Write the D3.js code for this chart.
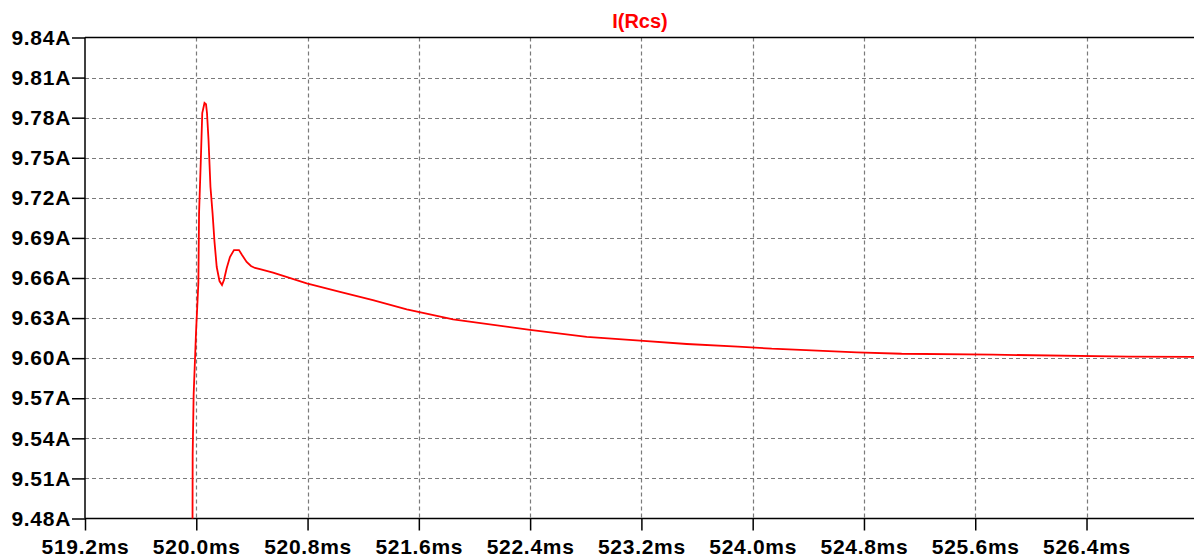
<!DOCTYPE html>
<html>
<head>
<meta charset="utf-8">
<script src="https://cdn.jsdelivr.net/npm/d3@7"></script>
<style>
  html, body { margin: 0; padding: 0; background: #fff; }
  svg { display: block; }
  .lbl { font-family: "Liberation Sans", Arial, sans-serif; font-weight: bold; font-size: 21px; fill: #000; letter-spacing: 0.7px; }
</style>
</head>
<body>
<svg id="chart" width="1194" height="560"></svg>
<script>
// Time (ms) and current (A) of trace I(Rcs)
const timeMs = [519.960, 519.973, 519.974, 519.981, 519.998, 520.015, 520.020, 520.032, 520.043, 520.059,
  520.070, 520.077, 520.088, 520.102, 520.117, 520.131, 520.147, 520.167, 520.185, 520.199,
  520.219, 520.242, 520.271, 520.307, 520.329, 520.362, 520.393, 520.422, 520.458, 520.552,
  520.794, 521.033, 521.270, 521.513, 521.846, 522.399, 522.807, 523.190, 523.526, 523.894,
  524.137, 524.424, 524.748, 525.071, 525.728, 526.705, 527.200];
const currentA = [9.420, 9.480, 9.5275, 9.5724, 9.6188, 9.6562, 9.7086, 9.7461, 9.7835, 9.791,
  9.790, 9.7835, 9.7633, 9.7281, 9.7086, 9.687, 9.6682, 9.6577, 9.6547, 9.6585,
  9.6675, 9.6757, 9.6809, 9.6809, 9.6772, 9.672, 9.669, 9.6675, 9.6667, 9.664,
  9.656, 9.6497, 9.6435, 9.6366, 9.6291, 9.6211, 9.616, 9.6131, 9.6106, 9.6087,
  9.6071, 9.6059, 9.6044, 9.6033, 9.6026, 9.6012, 9.6009];
const xTicks = [519.2, 520.0, 520.8, 521.6, 522.4, 523.2, 524.0, 524.8, 525.6, 526.4];
const xTickLabels = ["519.2ms", "520.0ms", "520.8ms", "521.6ms", "522.4ms", "523.2ms", "524.0ms", "524.8ms", "525.6ms", "526.4ms"];
const yTicks = [9.48, 9.51, 9.54, 9.57, 9.60, 9.63, 9.66, 9.69, 9.72, 9.75, 9.78, 9.81, 9.84];
const yTickLabels = ["9.48A", "9.51A", "9.54A", "9.57A", "9.60A", "9.63A", "9.66A", "9.69A", "9.72A", "9.75A", "9.78A", "9.81A", "9.84A"];
const traceName = "I(Rcs)";

(function () {
const svg = d3.select("#chart");
const pLeft = 85, pTop = 37.5, pBottom = 518.5, pxPerMs = 139.1, pRight = 1194;
const x = d3.scaleLinear().domain([519.2, 527.2]).range([pLeft, pLeft + 8 * pxPerMs]);
const y = d3.scaleLinear().domain([9.48, 9.84]).range([pBottom, pTop]);

// grid
const grid = svg.append("g").attr("stroke", "#7a7a7a").attr("stroke-width", 1.2).attr("stroke-dasharray", "4,3");
grid.selectAll("line.h").data(yTicks.slice(1, -1)).enter().append("line")
  .attr("x1", pLeft).attr("x2", pRight)
  .attr("y1", d => Math.round(y(d)) + 0.5).attr("y2", d => Math.round(y(d)) + 0.5);
grid.selectAll("line.v").data(xTicks.slice(1)).enter().append("line")
  .attr("y1", pTop).attr("y2", pBottom)
  .attr("x1", d => Math.round(x(d)) + 0.5).attr("x2", d => Math.round(x(d)) + 0.5);

// axes
const yAxis = d3.axisLeft(y).tickValues(yTicks).tickSize(13).tickPadding(1)
  .tickFormat((d, i) => yTickLabels[i]);
const gy = svg.append("g").attr("transform", `translate(${pLeft},0)`).call(yAxis);
const xAxis = d3.axisBottom(x).tickValues(xTicks).tickSize(12).tickPadding(4)
  .tickFormat((d, i) => xTickLabels[i]);
const gx = svg.append("g").attr("transform", `translate(0,${pBottom})`).call(xAxis);
[gx, gy].forEach(g => {
  g.select(".domain").remove();
  g.selectAll(".tick line").attr("stroke", "#000").attr("stroke-width", 1.5);
  g.selectAll(".tick text").attr("class", "lbl").attr("fill", "#000");
});
gx.selectAll(".tick text").attr("dy", "0.92em");

// frame lines
svg.append("line").attr("x1", pLeft).attr("x2", pLeft).attr("y1", pTop).attr("y2", pBottom)
  .attr("stroke", "#000").attr("stroke-width", 1.5);
svg.append("line").attr("x1", pLeft).attr("x2", pRight).attr("y1", pBottom).attr("y2", pBottom)
  .attr("stroke", "#000").attr("stroke-width", 1.5);
svg.append("line").attr("x1", pLeft).attr("x2", pRight).attr("y1", pTop).attr("y2", pTop)
  .attr("stroke", "#000").attr("stroke-width", 1.5);

// clip & trace
svg.append("clipPath").attr("id", "clip").append("rect")
  .attr("x", pLeft).attr("y", pTop).attr("width", pRight - pLeft).attr("height", pBottom - pTop);
const pts = timeMs.map((t, i) => [t, currentA[i]]);
svg.append("path").datum(pts)
  .attr("clip-path", "url(#clip)")
  .attr("fill", "none").attr("stroke", "#ff0000").attr("stroke-width", 1.8)
  .attr("d", d3.line().x(d => x(d[0])).y(d => y(d[1])));

// title
svg.append("text").attr("x", 640).attr("y", 28).attr("text-anchor", "middle")
  .attr("font-family", "Liberation Sans, Arial, sans-serif").attr("font-weight", "bold")
  .attr("font-size", 20).attr("fill", "#ff0000").text(traceName);
})();
</script>
</body>
</html>
